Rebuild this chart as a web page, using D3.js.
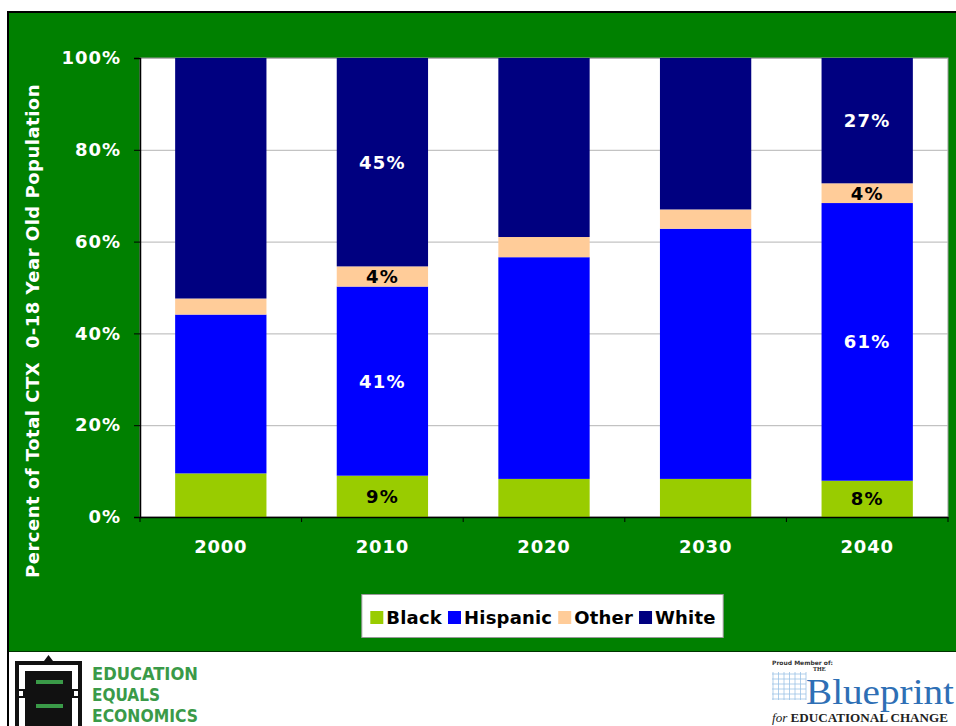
<!DOCTYPE html>
<html><head><meta charset="utf-8">
<script src="https://cdn.jsdelivr.net/npm/d3@7"></script>
<style>
html,body{margin:0;padding:0;background:#fff;}
svg{display:block;}
</style></head>
<body>
<svg id="chart" width="956" height="726"></svg>
<script>
const years = ["2000","2010","2020","2030","2040"];
const seriesNames = ["Black","Hispanic","Other","White"];
const black    = [9.5, 9.0, 8.3, 8.3, 7.9];
const hispanic = [34.6, 41.2, 48.3, 54.5, 60.5];
const other    = [3.5, 4.4, 4.4, 4.2, 4.3];
const white    = [52.4, 45.4, 39.0, 33.0, 27.3];
const labeledYears = ["2010","2040"];
const yTicks = [0, 20, 40, 60, 80, 100];
const colors = {Black:"#99cc00", Hispanic:"#0000ff", Other:"#ffcc99", White:"#000080"};
const labelColors = {Black:"#000", Hispanic:"#fff", Other:"#000", White:"#fff"};

const rows = years.map((y,i)=>({year:y, Black:black[i], Hispanic:hispanic[i], Other:other[i], White:white[i]}));
const stacked = d3.stack().keys(seriesNames)(rows);

const svg = d3.select("#chart");
const font = "'DejaVu Sans', Verdana, sans-serif";

// frame
svg.append("rect").attr("x",7).attr("y",11).attr("width",949).attr("height",641).attr("fill","#008000");
svg.append("line").attr("x1",7).attr("x2",956).attr("y1",12).attr("y2",12).attr("stroke","#000").attr("stroke-width",2);
svg.append("line").attr("x1",8).attr("x2",8).attr("y1",11).attr("y2",726).attr("stroke","#000").attr("stroke-width",2);
svg.append("line").attr("x1",9).attr("x2",956).attr("y1",651.5).attr("y2",651.5).attr("stroke","#003300").attr("stroke-width",1);

const plot = {left:140, right:948, top:58, bottom:517};
const x = d3.scaleBand().domain(years).range([plot.left, plot.right]).paddingInner(0.435).paddingOuter(0.2175);
const y = d3.scaleLinear().domain([0,100]).range([plot.bottom, plot.top]);

svg.append("rect").attr("x",plot.left).attr("y",plot.top).attr("width",plot.right-plot.left).attr("height",plot.bottom-plot.top).attr("fill","#fff").attr("stroke","#999").attr("stroke-width",1);

// gridlines
svg.append("g").selectAll("line").data(yTicks.filter(t=>t>0)).join("line")
  .attr("x1",plot.left).attr("x2",plot.right)
  .attr("y1",d=>y(d)+0.5).attr("y2",d=>y(d)+0.5)
  .attr("stroke","#b4b4b4").attr("stroke-width",1);

// bars
const gBars = svg.append("g");
stacked.forEach(s=>{
  gBars.selectAll(null).data(s).join("rect")
    .attr("x",d=>x(d.data.year)).attr("width",x.bandwidth())
    .attr("y",d=>y(d[1])).attr("height",d=>y(d[0])-y(d[1]))
    .attr("fill",colors[s.key]);
});

// labels
stacked.forEach(s=>{
  gBars.selectAll(null).data(s.filter(d=>labeledYears.includes(d.data.year))).join("text")
    .attr("x",d=>x(d.data.year)+x.bandwidth()/2)
    .attr("y",d=>(y(d[0])+y(d[1]))/2)
    .attr("dy","0.36em").attr("text-anchor","middle")
    .attr("font-family",font).attr("font-weight","bold").attr("font-size",18)
    .attr("letter-spacing",1.2)
    .attr("fill",labelColors[s.key])
    .text(d=>Math.round(d.data[s.key])+"%");
});

// y axis
const yAxis = svg.append("g").attr("transform",`translate(${plot.left},0)`)
  .call(d3.axisLeft(y).tickValues(yTicks).tickFormat(d=>d+"%").tickSize(6).tickPadding(13));
yAxis.select(".domain").attr("stroke","#000").attr("stroke-width",1.5);
yAxis.selectAll(".tick line").attr("stroke","#000");
yAxis.selectAll("text").attr("fill","#fff").attr("font-family",font).attr("font-weight","bold").attr("font-size",18).attr("letter-spacing",1);

// x axis
const xAxis = svg.append("g").attr("transform",`translate(0,${plot.bottom})`)
  .call(d3.axisBottom(x).tickSize(0).tickPadding(23));
xAxis.select(".domain").attr("stroke","#000").attr("stroke-width",1.5);
xAxis.selectAll("text").attr("fill","#fff").attr("font-family",font).attr("font-weight","bold").attr("font-size",18).attr("letter-spacing",0.8);
// boundary ticks
const bounds = years.map(yy=>x(yy)-x.step()*x.paddingInner()/2).concat([plot.right]);
svg.append("g").selectAll("line").data(bounds).join("line")
  .attr("x1",d=>d).attr("x2",d=>d).attr("y1",plot.bottom).attr("y2",plot.bottom+5)
  .attr("stroke","#000");

// y title
svg.append("text").attr("transform","translate(39,331) rotate(-90)")
  .attr("text-anchor","middle").attr("fill","#fff")
  .attr("font-family",font).attr("font-weight","bold").attr("font-size",18)
  .attr("letter-spacing",0.5)
  .attr("xml:space","preserve")
  .text("Percent of Total CTX  0-18 Year Old Population");

// legend
const lg = svg.append("g");
const box = lg.append("rect").attr("y",594.5).attr("height",43).attr("fill","#fff").attr("stroke","#999");
let lx = 0;
const items = lg.append("g");
seriesNames.forEach(n=>{
  items.append("rect").attr("x",lx).attr("y",611).attr("width",13).attr("height",13).attr("fill",colors[n]);
  const t = items.append("text").attr("x",lx+16).attr("y",624).attr("font-family",font).attr("font-weight","bold").attr("font-size",18).attr("letter-spacing",0.2).attr("fill","#000").text(n);
  lx += 16 + t.node().getComputedTextLength() + 6;
});
const totalW = lx - 6;
const startX = 543 - totalW/2;
items.attr("transform",`translate(${startX},0)`);
box.attr("x",startX-8.5).attr("width",totalW+16);

// logos (bottom)
const logo = svg.append("g");
logo.append("rect").attr("x",15).attr("y",661).attr("width",67).attr("height",65).attr("fill","#111");
logo.append("path").attr("d","M44,661 L48.5,655 L53,661 Z").attr("fill","#111");
logo.append("rect").attr("x",19).attr("y",665).attr("width",59).attr("height",61).attr("fill","#fff");
logo.append("rect").attr("x",25).attr("y",671).attr("width",47).attr("height",55).attr("fill","#111");
logo.append("rect").attr("x",15).attr("y",689).attr("width",67).attr("height",9).attr("fill","#111");
logo.append("rect").attr("x",19).attr("y",691).attr("width",4).attr("height",5).attr("fill","#fff");
logo.append("rect").attr("x",74).attr("y",691).attr("width",4).attr("height",5).attr("fill","#fff");
logo.append("rect").attr("x",36).attr("y",680).attr("width",27).attr("height",4).attr("fill","#3a9a48");
logo.append("rect").attr("x",36).attr("y",704).attr("width",27).attr("height",4).attr("fill","#3a9a48");
const eeeFont = "'Liberation Sans Narrow','DejaVu Sans Condensed',sans-serif";
[["EDUCATION",680,106],["EQUALS",701,68],["ECONOMICS",722,106]].forEach(([t,yy,w])=>{
  logo.append("text").attr("x",92).attr("y",yy).attr("font-family",eeeFont).attr("font-weight","bold")
    .attr("font-size",18).attr("fill","#3a9a48").attr("textLength",w).attr("lengthAdjust","spacingAndGlyphs").text(t);
});

const bp = svg.append("g");
bp.append("text").attr("x",772).attr("y",665).attr("font-family",font).attr("font-size",6).attr("font-weight","bold").attr("fill","#333").text("Proud Member of:");
const grid = bp.append("g").attr("stroke","#9cc3e6").attr("stroke-width",0.8);
for(let i=0;i<6;i++){grid.append("line").attr("x1",772).attr("x2",806).attr("y1",674+i*5).attr("y2",674+i*5);}
for(let i=0;i<7;i++){grid.append("line").attr("x1",773+i*5.5).attr("x2",773+i*5.5).attr("y1",672).attr("y2",700);}
bp.append("text").attr("x",813).attr("y",671).attr("font-family","'Liberation Serif',serif").attr("font-size",6).attr("font-weight","bold").attr("fill","#222").text("THE");
bp.append("text").attr("x",806).attr("y",704).attr("font-family","'Liberation Serif',serif").attr("font-size",36)
  .attr("fill","#2e6fb5").attr("textLength",148).attr("lengthAdjust","spacingAndGlyphs").text("Blueprint");
const f = bp.append("text").attr("x",772).attr("y",722).attr("font-family","'Liberation Serif',serif").attr("font-size",12).attr("font-weight","bold")
  .attr("fill","#222").attr("textLength",176).attr("lengthAdjust","spacingAndGlyphs");
f.append("tspan").attr("font-style","italic").attr("font-weight","normal").text("for ");
f.append("tspan").text("EDUCATIONAL CHANGE");
</script>
</body></html>
